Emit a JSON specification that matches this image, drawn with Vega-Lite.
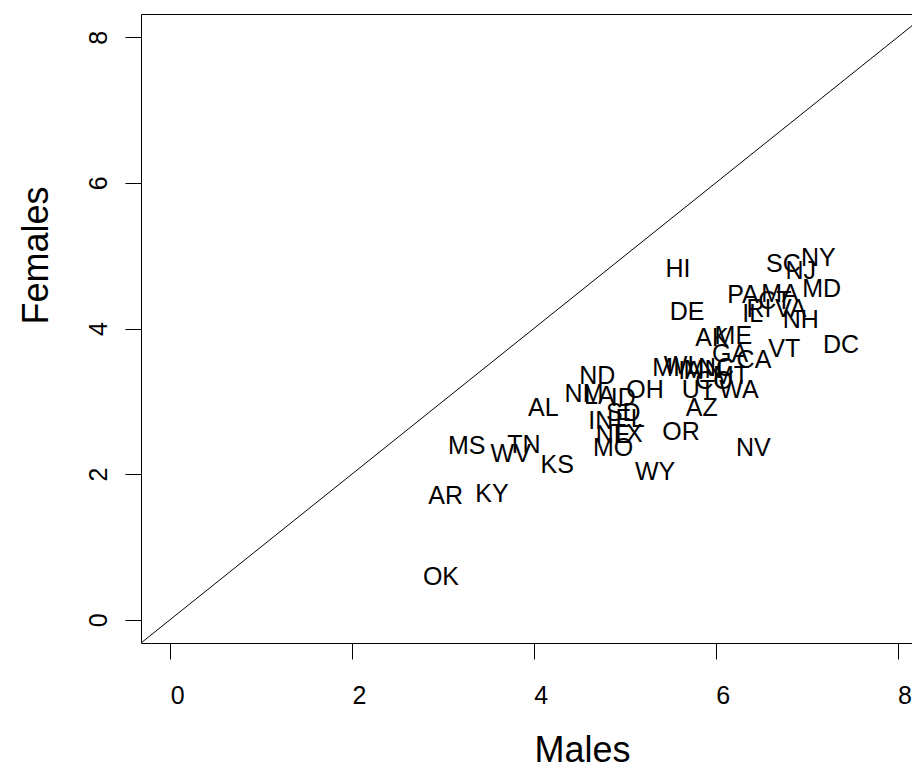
{
  "$schema": "https://vega.github.io/schema/vega-lite/v6.json",
  "width": 771,
  "height": 629,
  "autosize": {"type": "none"},
  "padding": {"left": 141, "top": 14, "right": 0, "bottom": 127},
  "background": "white",
  "config": {"view": {"stroke": "black", "strokeWidth": 1}, "font": "Liberation Sans"},
  "encoding": {
    "x": {
      "field": "m", "type": "quantitative",
      "scale": {"domain": [-0.32, 8.159], "nice": false, "zero": false},
      "axis": {"values": [0, 2, 4, 6, 8], "domain": false, "grid": false, "tickSize": 16, "tickColor": "black", "tickWidth": 1,
        "labelFontSize": 25, "labelColor": "black", "labelFont": "Liberation Sans", "labelPadding": 24, "labelFlush": false, "labelOverlap": false, "labelOffset": 7,
        "title": "Males", "titleFontSize": 36, "titleFontWeight": "normal", "titleColor": "black", "titleFont": "Liberation Sans",
        "titleX": 441, "titleY": 118, "titleBaseline": "alphabetic", "titleAlign": "center"}
    },
    "y": {
      "field": "f", "type": "quantitative",
      "scale": {"domain": [-0.32, 8.32], "nice": false, "zero": false},
      "axis": {"values": [0, 2, 4, 6, 8], "domain": false, "grid": false, "tickSize": 16, "tickColor": "black", "tickWidth": 1,
        "labelFontSize": 25, "labelColor": "black", "labelFont": "Liberation Sans", "labelPadding": 14, "labelFlush": false, "labelOverlap": false,
        "labelAngle": -90, "labelAlign": "center", "labelBaseline": "bottom",
        "title": "Females", "titleFontSize": 36, "titleFontWeight": "normal", "titleColor": "black", "titleFont": "Liberation Sans",
        "titleAngle": -90, "titleX": -94, "titleY": 241, "titleBaseline": "alphabetic", "titleAlign": "center"}
    }
  },
  "layer": [
    {
      "data": {"values": [{"m": -1, "f": -1}, {"m": 10, "f": 10}]},
      "mark": {"type": "line", "color": "black", "strokeWidth": 1, "clip": true}
    },
    {
      "data": {"values": [
        {"st": "HI", "m": 5.586, "f": 4.835},
        {"st": "SC", "m": 6.744, "f": 4.900},
        {"st": "NY", "m": 7.129, "f": 4.982},
        {"st": "NJ", "m": 6.935, "f": 4.799},
        {"st": "MD", "m": 7.166, "f": 4.552},
        {"st": "PA", "m": 6.300, "f": 4.474},
        {"st": "MA", "m": 6.707, "f": 4.481},
        {"st": "IL", "m": 6.407, "f": 4.217},
        {"st": "RI", "m": 6.476, "f": 4.286},
        {"st": "CT", "m": 6.652, "f": 4.391},
        {"st": "VA", "m": 6.825, "f": 4.277},
        {"st": "NH", "m": 6.935, "f": 4.126},
        {"st": "DE", "m": 5.685, "f": 4.245},
        {"st": "AK", "m": 5.960, "f": 3.879},
        {"st": "ME", "m": 6.194, "f": 3.907},
        {"st": "GA", "m": 6.158, "f": 3.668},
        {"st": "CA", "m": 6.421, "f": 3.581},
        {"st": "VT", "m": 6.755, "f": 3.728},
        {"st": "DC", "m": 7.378, "f": 3.787},
        {"st": "MI", "m": 5.454, "f": 3.471},
        {"st": "WI", "m": 5.597, "f": 3.505},
        {"st": "IA", "m": 5.718, "f": 3.430},
        {"st": "MN", "m": 5.861, "f": 3.444},
        {"st": "NC", "m": 6.004, "f": 3.471},
        {"st": "CO", "m": 5.982, "f": 3.293},
        {"st": "MT", "m": 6.168, "f": 3.361},
        {"st": "UT", "m": 5.809, "f": 3.165},
        {"st": "WA", "m": 6.256, "f": 3.173},
        {"st": "AZ", "m": 5.846, "f": 2.918},
        {"st": "OH", "m": 5.223, "f": 3.165},
        {"st": "ND", "m": 4.698, "f": 3.368},
        {"st": "NM", "m": 4.552, "f": 3.110},
        {"st": "LA", "m": 4.720, "f": 3.087},
        {"st": "ID", "m": 4.984, "f": 3.063},
        {"st": "SD", "m": 4.984, "f": 2.857},
        {"st": "FL", "m": 5.058, "f": 2.771},
        {"st": "IN", "m": 4.736, "f": 2.743},
        {"st": "NE", "m": 4.871, "f": 2.551},
        {"st": "TX", "m": 5.021, "f": 2.560},
        {"st": "MO", "m": 4.871, "f": 2.368},
        {"st": "OR", "m": 5.619, "f": 2.592},
        {"st": "NV", "m": 6.414, "f": 2.368},
        {"st": "WY", "m": 5.333, "f": 2.038},
        {"st": "AL", "m": 4.104, "f": 2.918},
        {"st": "MS", "m": 3.262, "f": 2.396},
        {"st": "TN", "m": 3.892, "f": 2.418},
        {"st": "WV", "m": 3.746, "f": 2.286},
        {"st": "KS", "m": 4.258, "f": 2.143},
        {"st": "AR", "m": 3.031, "f": 1.713},
        {"st": "KY", "m": 3.540, "f": 1.740},
        {"st": "OK", "m": 2.979, "f": 0.600}
      ]},
      "mark": {"type": "text", "fontSize": 25, "font": "Liberation Sans", "color": "black", "align": "center", "baseline": "middle", "dy": 1},
      "encoding": {"text": {"field": "st", "type": "nominal"}}
    }
  ]
}
